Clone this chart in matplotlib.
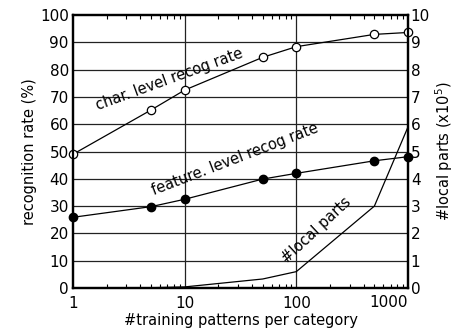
import numpy as np
import matplotlib.pyplot as plt
import matplotlib.transforms as mtransforms
from matplotlib.ticker import LogLocator, NullFormatter, FixedLocator

# Data
n_train = [1, 5, 10, 50, 100, 500, 1000]
char_rate = [49.0, 65.2, 72.5, 84.5, 88.4, 92.9, 93.6]
feat_rate = [25.9, 29.8, 32.5, 39.9, 42.0, 46.6, 48.1]
local_parts = [0.0, 0.01, 0.04, 0.33, 0.6, 3.0, 5.9]   # x10^5
x_ticks = [1, 10, 100, 1000]
x_ticklabels = ['1', '10', '100', '1000']

plt.rcParams['font.family'] = ['DejaVu Sans']
plt.rcParams['font.size'] = 10

fig = plt.figure(figsize=(4.54, 3.34), dpi=100)
ax = fig.add_axes([73 / 454, 1 - 288 / 334, (408 - 73) / 454, (288 - 15) / 334])

ax.set_xscale('log')
ax.set_xlim(1, 1000)
ax.set_ylim(0, 100)

# grid
for y in range(10, 100, 10):
    ax.axhline(y, color='#222222', lw=0.9, zorder=1)
for x in [10, 100]:
    ax.axvline(x, color='#222222', lw=0.9, zorder=1)

ax.plot(n_train, char_rate, '-o', color='black', lw=0.9, ms=6,
        mfc='white', mec='black', mew=0.9, clip_on=False, zorder=5)
ax.plot(n_train, feat_rate, '-o', color='black', lw=0.9, ms=6,
        mfc='black', mec='black', clip_on=False, zorder=5)

ax2 = ax.twinx()
ax2.set_ylim(0, 10)
ax2.plot(n_train, local_parts, '-', color='black', lw=0.9, clip_on=False, zorder=5)

# ticks
ax.set_yticks(range(0, 101, 10))
ax2.set_yticks(range(0, 11))
ax.xaxis.set_major_locator(FixedLocator(x_ticks))
# last label is pushed inside so it does not hang over the frame
ax.set_xticklabels(x_ticklabels[:-1] + [''])
trans = mtransforms.blended_transform_factory(ax.transData, ax.transAxes)
ax.text(x_ticks[-1], -0.025, x_ticklabels[-1], transform=trans,
        ha='right', va='top', fontsize=11)
ax.xaxis.set_minor_locator(LogLocator(base=10, subs=np.arange(2, 10)))
ax.xaxis.set_minor_formatter(NullFormatter())
ax.tick_params(axis='x', which='both', direction='in', top=True, length=3, width=0.8, pad=6)
ax.tick_params(axis='x', which='major', length=0)
ax.tick_params(axis='y', length=0, pad=3, labelsize=11)
ax2.tick_params(axis='y', length=0, pad=2, labelsize=11)
ax.tick_params(axis='x', labelsize=11)

for a in (ax, ax2):
    for s in a.spines.values():
        s.set_linewidth(1.6)

ax.set_xlabel('#training patterns per category', fontsize=10.5, labelpad=1)
ax.set_ylabel('recognition rate (%)', fontsize=10.5, labelpad=2)
ax2.set_ylabel('#local parts (x10$^5$)', fontsize=10.5, labelpad=2)

# in-plot labels
ax.text(7.3, 76.5, 'char. level recog rate', rotation=20, ha='center', va='center', fontsize=10.5)
ax.text(28, 47, 'feature. level recog rate', rotation=21, ha='center', va='center', fontsize=10.5)
ax.text(150, 21, '#local parts', rotation=43, ha='center', va='center', fontsize=10.5)

fig.savefig('out.png', dpi=100)
